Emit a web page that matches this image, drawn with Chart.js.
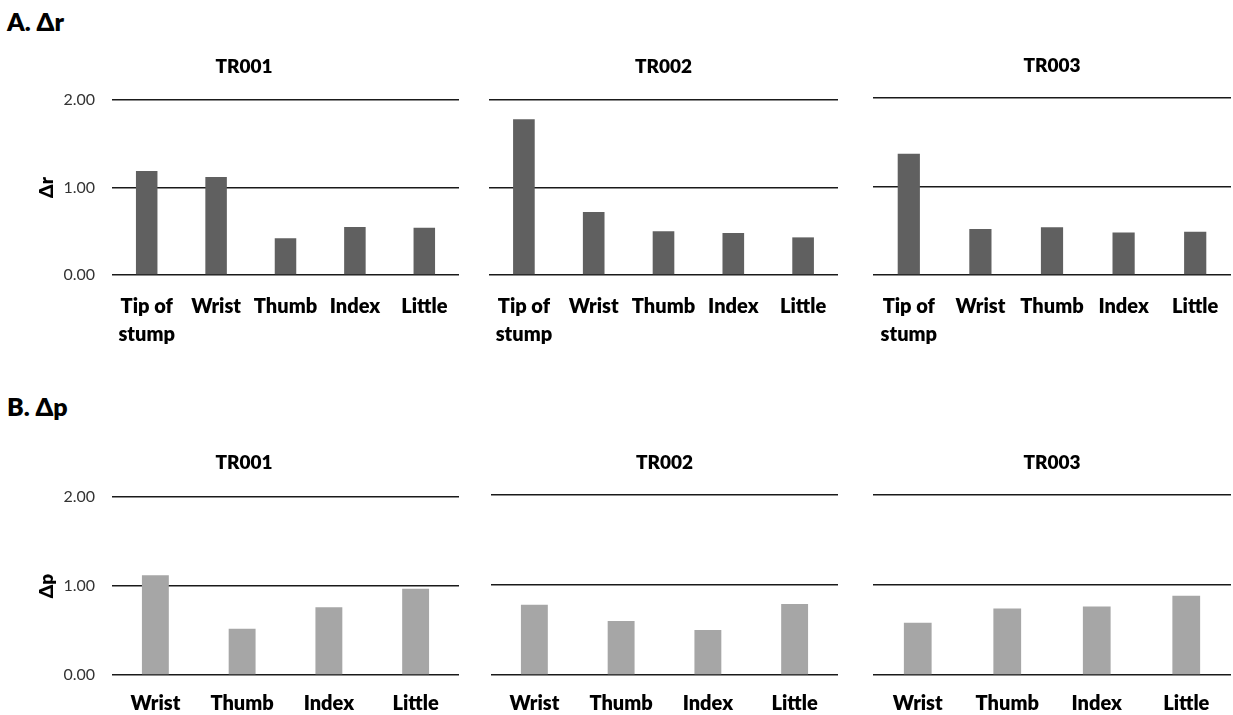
<!DOCTYPE html>
<html>
<head>
<meta charset="utf-8">
<script src="https://cdn.jsdelivr.net/npm/chart.js@4.4.1/dist/chart.umd.min.js"></script>
<style>
  html, body { margin: 0; padding: 0; background: #fff; }
  body { width: 1233px; height: 715px; position: relative; overflow: hidden; font-family: Lato, "Open Sans", sans-serif; }
  .heading { position: absolute; left: 7px; font-weight: 800; font-size: 25px; line-height: 1; color: #000; white-space: nowrap; }
  .panel { position: absolute; }
</style>
</head>
<body>
<div class="heading" style="top:9px">A. Δr</div>
<div class="heading" style="top:394px">B. Δp</div>

<script>
// Categories
const rCategories = [['Tip of', 'stump'], 'Wrist', 'Thumb', 'Index', 'Little'];
const pCategories = ['Wrist', 'Thumb', 'Index', 'Little'];

// Δr per subject
const drTR001 = [1.19, 1.12, 0.42, 0.55, 0.54];
const drTR002 = [1.78, 0.72, 0.50, 0.48, 0.43];
const drTR003 = [1.37, 0.52, 0.54, 0.48, 0.49];

// Δp per subject
const dpTR001 = [1.12, 0.52, 0.76, 0.97];
const dpTR002 = [0.78, 0.60, 0.50, 0.79];
const dpTR003 = [0.58, 0.74, 0.76, 0.88];

// Value axis
const yMin = 0;
const yMax = 2;
const yStep = 1;

const FONT = 'Lato, "Open Sans", sans-serif';
const DARK = '#606060';
const LIGHT = '#a6a6a6';

// Panel geometry: plot area edges, left padding, value-axis width, title centre line,
// label band under the plot. Axis title sits at a fixed page x.
const AXIS_TITLE_X = 47;
const layouts = {
  a1: { plotLeft: 112, plotRight: 459, padLeft: 29, plotTop: 100, plotBottom: 275, titleY: 67, axisWidth: 83, labelBand: 80, labelPad: 10 },
  a2: { plotLeft: 489, plotRight: 838, padLeft: 0, plotTop: 100, plotBottom: 275, titleY: 67, axisWidth: 0, labelBand: 80, labelPad: 10 },
  a3: { plotLeft: 873, plotRight: 1231, padLeft: 0, plotTop: 98, plotBottom: 275, titleY: 66, axisWidth: 0, labelBand: 80, labelPad: 10 },
  b1: { plotLeft: 112, plotRight: 459, padLeft: 29, plotTop: 497, plotBottom: 675, titleY: 463, axisWidth: 83, labelBand: 40, labelPad: 7 },
  b2: { plotLeft: 491, plotRight: 838, padLeft: 0, plotTop: 495, plotBottom: 675, titleY: 463, axisWidth: 0, labelBand: 40, labelPad: 7 },
  b3: { plotLeft: 873, plotRight: 1231, padLeft: 0, plotTop: 495, plotBottom: 675, titleY: 463, axisWidth: 0, labelBand: 40, labelPad: 7 }
};

const panels = [
  { key: 'a1', title: 'TR001', categories: rCategories, values: drTR001, color: DARK, yTitle: 'Δr' },
  { key: 'a2', title: 'TR002', categories: rCategories, values: drTR002, color: DARK },
  { key: 'a3', title: 'TR003', categories: rCategories, values: drTR003, color: DARK },
  { key: 'b1', title: 'TR001', categories: pCategories, values: dpTR001, color: LIGHT, yTitle: 'Δp' },
  { key: 'b2', title: 'TR002', categories: pCategories, values: dpTR002, color: LIGHT },
  { key: 'b3', title: 'TR003', categories: pCategories, values: dpTR003, color: LIGHT }
];

const TITLE_SIZE = 19;
const TITLE_LH = 1.2;
const LABEL_SIZE = 20;
const LABEL_LH = 1.4;
const AXIS_TITLE_SIZE = 19;
const HEAVY = 800;

function drawPanel(p) {
  const L = layouts[p.key];
  const canvasLeft = L.plotLeft - L.axisWidth - L.padLeft;
  const canvasTop = L.titleY - 30;
  const width = L.plotRight - canvasLeft;
  const height = L.plotBottom + L.labelBand - canvasTop;
  const titleLine = TITLE_SIZE * TITLE_LH;
  const axisTitleLine = AXIS_TITLE_SIZE * 1.2;

  const canvas = document.createElement('canvas');
  canvas.className = 'panel';
  canvas.width = width;
  canvas.height = height;
  canvas.style.left = canvasLeft + 'px';
  canvas.style.top = canvasTop + 'px';
  canvas.style.width = width + 'px';
  canvas.style.height = height + 'px';
  document.body.appendChild(canvas);

  new Chart(canvas, {
    type: 'bar',
    data: {
      labels: p.categories,
      datasets: [{
        data: p.values,
        backgroundColor: p.color,
        borderWidth: 0,
        barPercentage: 0.31,
        categoryPercentage: 1
      }]
    },
    options: {
      responsive: false,
      animation: false,
      devicePixelRatio: 1,
      events: [],
      layout: { padding: { left: L.padLeft, right: 0, top: 0, bottom: 0 } },
      plugins: {
        legend: { display: false },
        tooltip: { enabled: false },
        title: {
          display: true,
          text: p.title,
          color: '#000',
          font: { family: FONT, size: TITLE_SIZE, weight: HEAVY, lineHeight: TITLE_LH },
          padding: { top: 30 - titleLine / 2, bottom: L.plotTop - L.titleY - titleLine / 2 }
        }
      },
      scales: {
        x: {
          grid: { display: false },
          border: { display: false },
          ticks: {
            color: '#000',
            autoSkip: false,
            maxRotation: 0,
            padding: L.labelPad,
            font: { family: FONT, size: LABEL_SIZE, weight: HEAVY, lineHeight: LABEL_LH }
          },
          afterFit(scale) {
            scale.height = L.labelBand;
            scale.paddingLeft = 0;
            scale.paddingRight = 0;
          }
        },
        y: {
          min: yMin,
          max: yMax,
          grid: { color: '#1a1a1a', lineWidth: 1.5, drawTicks: false },
          border: { display: false },
          ticks: {
            display: L.axisWidth > 0,
            stepSize: yStep,
            padding: 17,
            color: '#333',
            font: { family: FONT, size: 16 },
            callback: v => Number(v).toFixed(2)
          },
          title: {
            display: !!p.yTitle,
            text: p.yTitle || '',
            color: '#000',
            font: { family: FONT, size: AXIS_TITLE_SIZE, weight: HEAVY, lineHeight: 1.2 },
            padding: { top: Math.max(AXIS_TITLE_X - canvasLeft - L.padLeft - axisTitleLine / 2, 0), bottom: 0 }
          },
          afterFit(scale) {
            scale.width = L.axisWidth;
            scale.paddingTop = 0;
            scale.paddingBottom = 0;
          }
        }
      }
    }
  });
}

panels.forEach(drawPanel);
</script>
</body>
</html>
